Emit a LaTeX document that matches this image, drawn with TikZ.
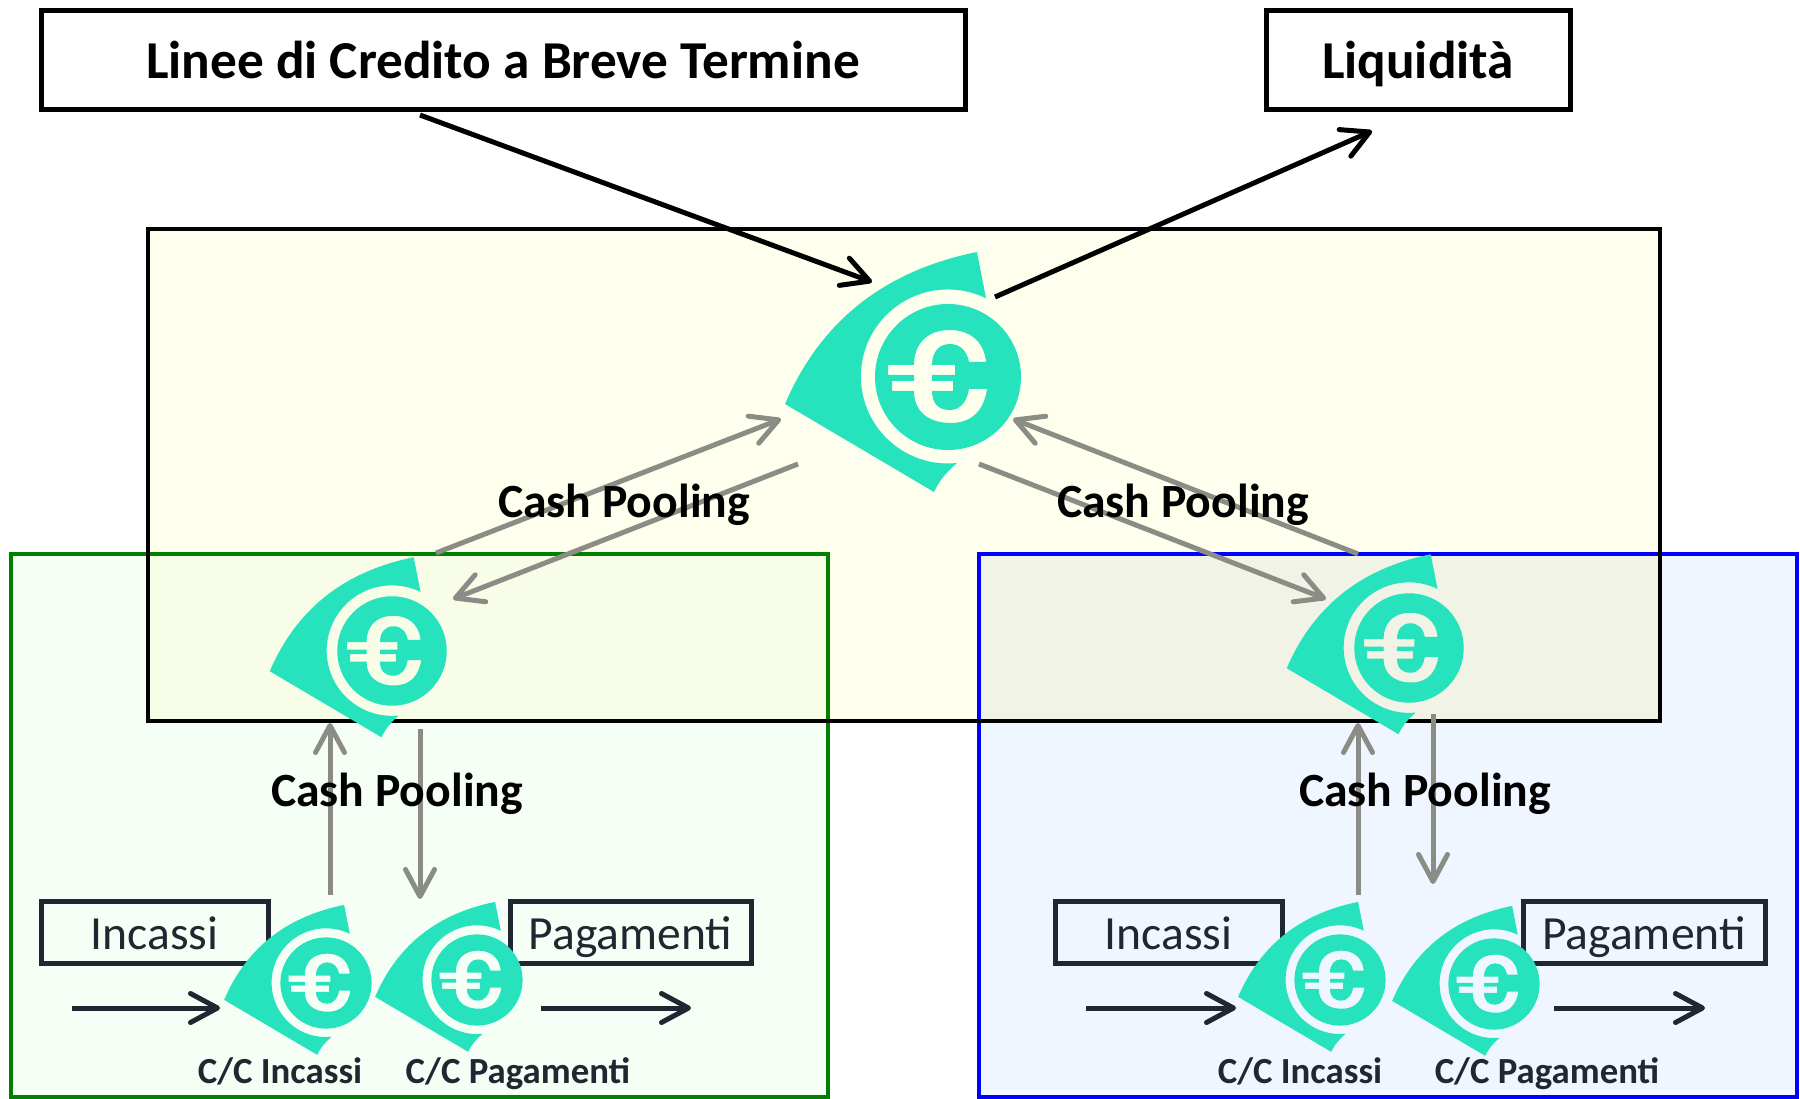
\documentclass[tikz,border=0pt]{standalone}
\usepackage{fontspec}
\setmainfont{Carlito}
\usetikzlibrary{arrows.meta}
\definecolor{teal1}{HTML}{26E3BE}
\definecolor{yfill}{HTML}{FFFFEE}
\definecolor{gfill}{HTML}{F5FFF6}
\definecolor{bfill}{HTML}{F0F6FF}
\definecolor{ovg}{HTML}{F8FDE8}
\definecolor{ovb}{HTML}{F1F3E6}
\definecolor{greyarrow}{HTML}{8C8C86}
\definecolor{ink}{HTML}{1F2730}
\tikzset{
 barbtip/.style={-{Straight Barb[length=27pt,width=29pt,line width=5pt,round]}},
 titlebox/.style={draw=black,line width=5pt,font=\bfseries\fontsize{53.3}{55}\selectfont,text=black,inner sep=0pt,text height=38pt,text depth=0pt},
 smallbox/.style={draw=ink,line width=5pt,font=\fontsize{47.6}{50}\selectfont,text=ink,inner sep=0pt,text height=38pt,text depth=4pt},
 poollabel/.style={font=\bfseries\fontsize{47.7}{50}\selectfont,text=black,inner sep=0pt,text height=32pt,text depth=10pt},
 acclabel/.style={font=\bfseries\fontsize{36.8}{39}\selectfont,text=ink,inner sep=0pt,text height=25pt,text depth=7pt},
 flowblack/.style={line width=5pt,black,barbtip},
 flowsmall/.style={line width=5pt,ink,barbtip},
 flowgrey/.style={line width=5pt,greyarrow,barbtip},
 pics/euroicon/.style={code={
   \fill[teal1] (38,-79) -- (29,-125) .. controls (-70,-105) and (-130,-50) .. (-163,27)
      -- (-14,115) .. controls (-8,102) and (0,94) .. (9,86)
      arc[start angle=-84,end angle=-296,radius=87pt] -- cycle;
   \fill[teal1,even odd rule] (0,0) circle[radius=73pt]
      (38,-15) .. controls (36,-37) and (20,-47) .. (2,-47)
      .. controls (-22,-47) and (-34,-32) .. (-34,-12)
      -- (-60,-12) -- (-60,-2) -- (-34,-2) -- (-34,4) -- (-56,4) -- (-56,14) -- (-34,14)
      .. controls (-34,34) and (-20,46) .. (3,46)
      .. controls (24,46) and (36,33) .. (39,12)
      -- (21,12) .. controls (19,25) and (12,33) .. (2,33)
      .. controls (-10,33) and (-16,26) .. (-16,14)
      -- (5,14) -- (5,4) -- (-16,4) -- (-16,-2) -- (7,-2) -- (7,-12) -- (-16,-12)
      .. controls (-16,-25) and (-9,-33) .. (2,-33)
      .. controls (12,-33) and (19,-26) .. (21,-15) -- cycle;
 }},
}
\begin{document}
\begin{tikzpicture}[x=1pt,y=-1pt]
\useasboundingbox (0,0) rectangle (1800,1099);
\fill[white] (0,0) rectangle (1800,1099);
% region fills
\fill[yfill] (148,229) rectangle (1660,721);
\fill[gfill] (11,554) rectangle (828,1097);
\fill[bfill] (979,554) rectangle (1797,1097);
\fill[ovg] (148,554) rectangle (828,721);
\fill[ovb] (979,554) rectangle (1660,721);
% region outlines
\draw[line width=4pt,draw=green!50!black] (11,554) rectangle (828,1097);
\draw[line width=4pt,draw=blue] (979,554) rectangle (1797,1097);
\draw[line width=4pt,draw=black] (148,229) rectangle (1660,721);
% text boxes
\node[titlebox,minimum width=924pt,minimum height=99pt] (credito) at (503,60) {Linee di Credito a Breve Termine};
\node[titlebox,minimum width=304pt,minimum height=99pt] (liq) at (1418,60) {Liquidità};
\node[smallbox,minimum width=227pt,minimum height=62pt] (inL) at (154.5,932) {Incassi};
\node[smallbox,minimum width=241pt,minimum height=62pt] (paL) at (630.5,932) {Pagamenti};
\node[smallbox,minimum width=227pt,minimum height=62pt] (inR) at (1168.5,932) {Incassi};
\node[smallbox,minimum width=242pt,minimum height=62pt] (paR) at (1644,932) {Pagamenti};
% icons
\pic (iconTop) at (948,377) {euroicon};
\pic[scale=.75] (iconL) at (392,651) {euroicon};
\pic[scale=.75] (iconR) at (1409,648) {euroicon};
\pic[scale=.625] (iconLI) at (326,983) {euroicon};
\pic[scale=.625] (iconLP) at (477,980) {euroicon};
\pic[scale=.625] (iconRI) at (1340,980) {euroicon};
\pic[scale=.625] (iconRP) at (1494,984) {euroicon};
% endpoints
\coordinate (a1) at (420,115); \coordinate (a2) at (872,282);
\coordinate (b1) at (995,297); \coordinate (b2) at (1372,131);
\coordinate (c1) at (436,553); \coordinate (c2) at (781,419);
\coordinate (d1) at (798,464); \coordinate (d2) at (453,599);
\coordinate (e1) at (1358,554); \coordinate (e2) at (1013,419);
\coordinate (f1) at (979,464); \coordinate (f2) at (1326,599);
\coordinate (g1) at (330,895); \coordinate (g2) at (330,723);
\coordinate (h1) at (420,729); \coordinate (h2) at (420,899);
\coordinate (i1) at (1358,895); \coordinate (i2) at (1358,723);
\coordinate (j1) at (1433,714); \coordinate (j2) at (1433,884);
\coordinate (k1) at (72,1008); \coordinate (k2) at (220,1008);
\coordinate (l1) at (541,1008); \coordinate (l2) at (691,1008);
\coordinate (m1) at (1086,1008); \coordinate (m2) at (1236,1008);
\coordinate (n1) at (1554,1008); \coordinate (n2) at (1705,1008);
\draw[flowblack] (a1) -- (a2);
\draw[flowblack] (b1) -- (b2);
\draw[flowgrey] (c1) -- (c2);
\draw[flowgrey] (d1) -- (d2);
\draw[flowgrey] (e1) -- (e2);
\draw[flowgrey] (f1) -- (f2);
\draw[flowgrey] (g1) -- (g2);
\draw[flowgrey] (h1) -- (h2);
\draw[flowgrey] (i1) -- (i2);
\draw[flowgrey] (j1) -- (j2);
\draw[flowsmall] (k1) -- (k2);
\draw[flowsmall] (l1) -- (l2);
\draw[flowsmall] (m1) -- (m2);
\draw[flowsmall] (n1) -- (n2);
% labels
\node[poollabel] (cp1) at (624,506) {Cash Pooling};
\node[poollabel] (cp2) at (1183,506) {Cash Pooling};
\node[poollabel] (cp3) at (397,795) {Cash Pooling};
\node[poollabel] (cp4) at (1425,795) {Cash Pooling};
\node[acclabel] (cc1) at (280,1074) {C/C Incassi};
\node[acclabel] (cc2) at (518,1074) {C/C Pagamenti};
\node[acclabel] (cc3) at (1300,1074) {C/C Incassi};
\node[acclabel] (cc4) at (1547,1074) {C/C Pagamenti};
\end{tikzpicture}
\end{document}
